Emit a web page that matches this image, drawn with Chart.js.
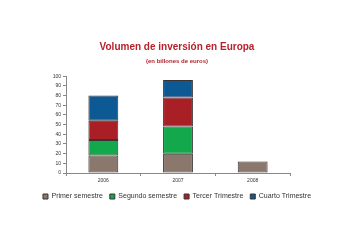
<!DOCTYPE html>
<html>
<head>
<meta charset="utf-8">
<script src="https://cdn.jsdelivr.net/npm/chart.js@4/dist/chart.umd.min.js"></script>
<style>
  html, body { margin: 0; padding: 0; background: #fff; }
  #wrap { width: 354px; height: 250px; }
</style>
</head>
<body>
<div id="wrap"><canvas id="c" width="354" height="250"></canvas></div>
<script>
// Years on the x axis
const years = ['2006', '2007', '2008'];

// Investment volume per period (billions of euros); 2008 only has the first semester
const primerSemestre  = [18, 20, 12];
const segundoSemestre = [16, 28, null];
const tercerTrimestre = [20, 30, null];
const cuartoTrimestre = [26, 18, null];

const seriesNames = ['Primer semestre', 'Segundo semestre', 'Tercer Trimestre', 'Cuarto Trimestre'];
const seriesColors = ['#8a786d', '#13a84b', '#a81f26', '#0c5993'];
const seriesData = [primerSemestre, segundoSemestre, tercerTrimestre, cuartoTrimestre];

const fontFamily = 'Liberation Sans, Arial, sans-serif';

new Chart(document.getElementById('c'), {
  type: 'bar',
  data: {
    labels: years,
    datasets: seriesNames.map((name, i) => ({
      label: name,
      data: seriesData[i],
      backgroundColor: seriesColors[i],
      borderColor: '#3a3232',
      borderWidth: 1,
      borderSkipped: false,
      barPercentage: 0.4,
      categoryPercentage: 1.0
    }))
  },
  options: {
    responsive: false,
    animation: false,
    devicePixelRatio: 1,
    layout: { padding: { left: 0, right: 0, top: 41, bottom: 40 } },
    plugins: {
      title: {
        display: true,
        text: 'Volumen de inversión en Europa',
        color: '#b5222b',
        font: { family: fontFamily, size: 10, weight: 'bold' },
        padding: { top: 0, bottom: 5 }
      },
      subtitle: {
        display: true,
        text: '(en billones de euros)',
        color: '#b5222b',
        font: { family: fontFamily, size: 6, weight: 'bold' },
        padding: { top: 0, bottom: 11 }
      },
      legend: {
        position: 'bottom',
        labels: {
          color: '#333',
          font: { family: fontFamily, size: 7 },
          boxWidth: 5,
          boxHeight: 5,
          padding: 7
        }
      },
      tooltip: { enabled: false }
    },
    scales: {
      x: {
        stacked: true,
        grid: { display: true, drawOnChartArea: false, offset: true, tickLength: 3, color: '#888' },
        border: { color: '#888' },
        ticks: { color: '#333', font: { family: fontFamily, size: 5 }, padding: 2 }
      },
      y: {
        stacked: true,
        min: 0,
        max: 100,
        ticks: { stepSize: 10, color: '#333', font: { family: fontFamily, size: 5 }, padding: 2 },
        grid: { display: true, drawOnChartArea: false, tickLength: 3, color: '#888' },
        border: { color: '#888' },
        afterFit: (scale) => { scale.width = 66; }
      },
      // empty axis that reserves the right-hand margin of the plot
      yRight: {
        position: 'right',
        display: true,
        grid: { display: false },
        border: { display: false },
        ticks: { display: false },
        afterFit: (scale) => { scale.width = 64; }
      }
    }
  }
});
</script>
</body>
</html>
